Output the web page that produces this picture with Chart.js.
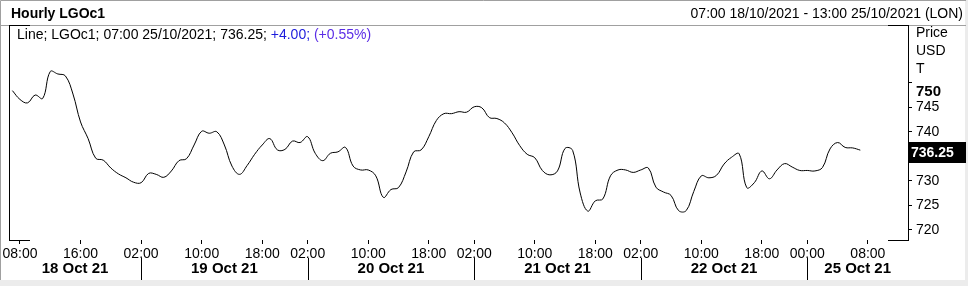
<!DOCTYPE html>
<html lang="en">
<head>
<meta charset="utf-8">
<title>Hourly LGOc1</title>
<style>
  html, body { margin: 0; padding: 0; background: #fff; }
  canvas { display: block; }
</style>
</head>
<body>
<canvas id="chart" width="968" height="286"></canvas>
<script src="https://cdn.jsdelivr.net/npm/chart.js"></script>
<script>
// hourly closes, one per trading hour, 07:00 18/10 -> 07:00 25/10
const prices = [
  748.4, 746.6, 745.9, 747.5, 746.8, 752.3, 751.8, 751.4, 747.7, 742.0,
  738.6, 734.6, 734.2, 732.6, 731.4, 730.6, 729.7, 729.6, 731.5, 731.3,
  730.7, 732.0, 734.1, 734.5, 737.3, 740.1, 739.7, 740.0, 737.3, 733.0,
  731.3, 733.1, 735.4, 737.3, 738.6, 736.3, 736.4, 738.1, 737.8, 739.0,
  735.6, 734.1, 735.6, 735.9, 736.8, 733.0, 732.2, 732.2, 731.0, 726.6,
  728.2, 728.6, 731.8, 735.9, 736.3, 739.0, 742.3, 743.7, 743.7, 744.1,
  744.0, 745.1, 744.9, 742.9, 742.7, 741.8, 739.8, 737.2, 735.4, 734.7,
  732.1, 731.2, 732.0, 736.6, 736.2, 727.5, 723.8, 725.9, 726.3, 731.0,
  732.2, 732.2, 731.7, 732.2, 732.6, 728.7, 727.7, 727.0, 723.9, 723.9,
  727.8, 731.0, 730.6, 731.1, 733.4, 734.8, 735.5, 728.6, 729.6, 732.0,
  730.4, 732.2, 733.5, 732.8, 732.1, 732.1, 732.0, 732.7, 736.5, 737.8,
  736.8, 736.7, 736.25
];

// hour axis: bar index of each labelled tick and its text
const hourTicks = [1, 9, 17, 25, 33, 39, 47, 55, 61, 69, 77, 83, 91, 99, 105, 113];
const hourLabels = ['08:00', '16:00', '02:00', '10:00', '18:00', '02:00', '10:00', '18:00',
  '02:00', '10:00', '18:00', '02:00', '10:00', '18:00', '00:00', '08:00'];

// first bar of each new day, and the day names
const dayStarts = [17, 39, 61, 83, 105];
const dayLabels = ['18 Oct 21', '19 Oct 21', '20 Oct 21', '21 Oct 21', '22 Oct 21', '25 Oct 21'];

const priceTicks = [720, 725, 730, 735, 740, 745, 750];

const FONT = '"Liberation Sans", Arial, sans-serif';
const xMin = -0.45, xMax = 118.3;
const yMin = 717.9, yMax = 761.8;

const dayBounds = [xMin].concat(dayStarts, [xMax]);
const dayMids = dayLabels.map((d, i) => (dayBounds[i] + dayBounds[i + 1]) / 2);

const points = prices.map((p, i) => ({ x: i, y: p }));

const frame = {
  id: 'frame',
  afterDraw(chart) {
    const ctx = chart.ctx;
    const xs = chart.scales.x;
    const ys = chart.scales.y;
    ctx.save();

    // window edges
    ctx.fillStyle = '#ececec';
    ctx.fillRect(0, 280, 968, 6);
    ctx.fillRect(965, 0, 3, 286);
    ctx.strokeStyle = '#a0a0a0';
    ctx.lineWidth = 1;
    ctx.beginPath();
    ctx.moveTo(0.5, 280);
    ctx.lineTo(0.5, 0.5);
    ctx.lineTo(966, 0.5);
    ctx.moveTo(0, 25.5);
    ctx.lineTo(966, 25.5);
    ctx.stroke();

    // plot frame: left edge and corner pieces
    ctx.strokeStyle = '#000';
    ctx.beginPath();
    ctx.moveTo(9.5, 25.5);
    ctx.lineTo(9.5, 240.5);
    ctx.moveTo(9, 25.5); ctx.lineTo(30, 25.5);
    ctx.moveTo(9, 240.5); ctx.lineTo(30, 240.5);
    ctx.moveTo(888, 25.5); ctx.lineTo(909, 25.5);
    ctx.moveTo(888, 240.5); ctx.lineTo(909, 240.5);
    // day separators
    dayStarts.forEach(d => {
      const px = Math.round(xs.getPixelForValue(d)) + 0.5;
      ctx.moveTo(px, 258);
      ctx.lineTo(px, 280);
    });
    ctx.stroke();

    // header
    ctx.textBaseline = 'middle';
    ctx.fillStyle = '#000';
    ctx.font = 'bold 14px ' + FONT;
    ctx.textAlign = 'left';
    ctx.fillText('Hourly LGOc1', 11, 14);
    ctx.font = '14px ' + FONT;
    ctx.textAlign = 'right';
    ctx.fillText('07:00 18/10/2021 - 13:00 25/10/2021 (LON)', 963, 14);

    // legend line
    ctx.textAlign = 'left';
    let lx = 17;
    const parts = [
      ['Line; LGOc1; 07:00 25/10/2021; 736.25; ', '#000'],
      ['+4.00; ', '#1c1cdc'],
      ['(+0.55%)', '#5b2de6']
    ];
    parts.forEach(([t, c]) => {
      ctx.fillStyle = c;
      ctx.fillText(t, lx, 35);
      lx += ctx.measureText(t).width;
    });

    // axis caption
    ctx.fillStyle = '#000';
    ctx.fillText('Price', 916, 33);
    ctx.fillText('USD', 916, 51);
    ctx.fillText('T', 916, 69);

    // last value marker
    const last = prices[prices.length - 1];
    const py = ys.getPixelForValue(last);
    ctx.fillStyle = '#000';
    ctx.fillRect(909, Math.round(py) - 8, 57, 21);
    ctx.fillStyle = '#fff';
    ctx.font = 'bold 14px ' + FONT;
    ctx.fillText(last.toFixed(2), 911, Math.round(py) + 3);

    ctx.restore();
  }
};

new Chart(document.getElementById('chart'), {
  type: 'line',
  data: {
    datasets: [{
      data: points,
      borderColor: '#000',
      borderWidth: 1,
      pointRadius: 0,
      tension: 0.4,
      fill: false
    }]
  },
  options: {
    responsive: false,
    animation: false,
    events: [],
    layout: { padding: { left: 9, top: 25, right: 0, bottom: 6 } },
    plugins: { legend: { display: false }, tooltip: { enabled: false } },
    scales: {
      x: {
        type: 'linear',
        position: 'bottom',
        min: xMin,
        max: xMax,
        afterBuildTicks: s => { s.ticks = hourTicks.map(v => ({ value: v })); },
        afterFit: s => { s.height = 18; },
        border: { display: false },
        grid: { drawOnChartArea: false, drawTicks: true, tickLength: 4, color: '#000' },
        ticks: {
          autoSkip: false,
          maxRotation: 0,
          padding: 2,
          color: '#000',
          font: { family: FONT, size: 14 },
          callback: (v) => hourLabels[hourTicks.indexOf(v)]
        }
      },
      days: {
        type: 'linear',
        position: 'bottom',
        min: xMin,
        max: xMax,
        afterBuildTicks: s => { s.ticks = dayMids.map(v => ({ value: v })); },
        afterFit: s => { s.height = 22; },
        border: { display: false },
        grid: { display: false, drawTicks: false },
        ticks: {
          autoSkip: false,
          maxRotation: 0,
          padding: 2,
          color: '#000',
          font: { family: FONT, size: 15, weight: 'bold' },
          callback: (v) => dayLabels[dayMids.indexOf(v)]
        }
      },
      y: {
        type: 'linear',
        position: 'right',
        min: yMin,
        max: yMax,
        afterBuildTicks: s => { s.ticks = priceTicks.map(v => ({ value: v })); },
        afterFit: s => { s.width = 60; },
        border: { display: true, color: '#000', width: 1 },
        grid: { drawOnChartArea: false, drawTicks: true, tickLength: 4, color: '#000' },
        ticks: {
          autoSkip: false,
          padding: 4,
          color: '#000',
          font: (c) => (c.tick && c.tick.value === 750)
            ? { family: FONT, size: 15, weight: 'bold' }
            : { family: FONT, size: 14 },
          callback: (v) => v === 750 ? ['', '750'] : String(v)
        }
      }
    }
  },
  plugins: [frame]
});
</script>
</body>
</html>
